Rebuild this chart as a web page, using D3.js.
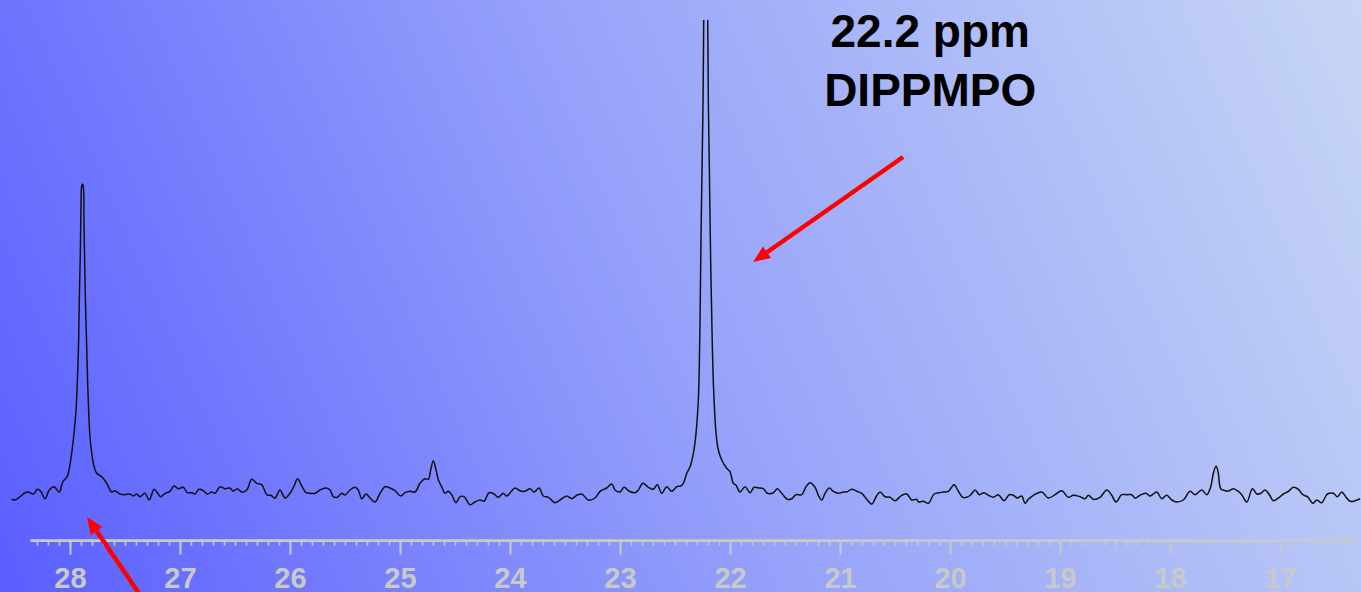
<!DOCTYPE html>
<html>
<head>
<meta charset="utf-8">
<script src="https://cdn.jsdelivr.net/npm/d3@7"></script>
<style>
  html, body { margin: 0; padding: 0; overflow: hidden; }
  svg { display: block; }
</style>
</head>
<body>
<svg width="1361" height="592"></svg>
<script>
// 31P NMR spectrum, chemical shift (ppm) vs. intensity (arbitrary units)
const shift = [
  28.530, 28.500, 28.454, 28.409, 28.379, 28.333, 28.297, 28.266, 28.227, 28.188,
  28.145, 28.097, 28.066, 28.030, 28.015, 27.993, 27.970, 27.945, 27.930, 27.921,
  27.915, 27.906, 27.900, 27.893, 27.886, 27.879, 27.872, 27.861, 27.848, 27.836,
  27.818, 27.802, 27.788, 27.757, 27.711, 27.666, 27.621, 27.591, 27.545, 27.500,
  27.454, 27.424, 27.393, 27.363, 27.318, 27.279, 27.236, 27.211, 27.175, 27.136,
  27.091, 27.054, 27.015, 26.970, 26.933, 26.893, 26.863, 26.827, 26.788, 26.751,
  26.711, 26.681, 26.636, 26.591, 26.545, 26.515, 26.479, 26.439, 26.393, 26.348,
  26.302, 26.257, 26.211, 26.175, 26.136, 26.091, 26.045, 26.000, 25.963, 25.930,
  25.893, 25.854, 25.818, 25.772, 25.727, 25.672, 25.636, 25.606, 25.570, 25.530,
  25.500, 25.454, 25.409, 25.379, 25.348, 25.309, 25.272, 25.227, 25.181, 25.136,
  25.091, 25.045, 24.993, 24.954, 24.909, 24.863, 24.818, 24.772, 24.742, 24.721,
  24.697, 24.672, 24.651, 24.621, 24.591, 24.561, 24.530, 24.491, 24.454, 24.418,
  24.363, 24.318, 24.272, 24.236, 24.191, 24.145, 24.106, 24.061, 24.030, 23.993,
  23.954, 23.909, 23.863, 23.818, 23.781, 23.736, 23.697, 23.651, 23.591, 23.545,
  23.484, 23.439, 23.393, 23.348, 23.288, 23.227, 23.181, 23.121, 23.075, 23.045,
  23.000, 22.963, 22.915, 22.863, 22.833, 22.793, 22.742, 22.697, 22.661, 22.621,
  22.575, 22.530, 22.484, 22.448, 22.424, 22.393, 22.363, 22.333, 22.309, 22.288,
  22.279, 22.272, 22.263, 22.254, 22.245, 22.221, 22.197, 22.188, 22.175, 22.163,
  22.151, 22.127, 22.106, 22.075, 22.030, 22.000, 21.970, 21.945, 21.909, 21.863,
  21.818, 21.781, 21.742, 21.697, 21.661, 21.606, 21.570, 21.530, 21.479, 21.439,
  21.400, 21.348, 21.309, 21.272, 21.227, 21.197, 21.166, 21.136, 21.097, 21.061,
  21.015, 20.970, 20.939, 20.893, 20.848, 20.802, 20.757, 20.711, 20.672, 20.636,
  20.591, 20.545, 20.500, 20.439, 20.393, 20.348, 20.302, 20.288, 20.242, 20.197,
  20.145, 20.097, 20.061, 20.015, 19.963, 19.924, 19.884, 19.848, 19.811, 19.772,
  19.733, 19.691, 19.651, 19.606, 19.561, 19.509, 19.461, 19.424, 19.388, 19.348,
  19.318, 19.288, 19.242, 19.166, 19.106, 19.045, 18.984, 18.924, 18.879, 18.818,
  18.772, 18.742, 18.697, 18.636, 18.575, 18.530, 18.491, 18.439, 18.393, 18.348,
  18.318, 18.272, 18.218, 18.181, 18.121, 18.075, 18.030, 17.984, 17.939, 17.879,
  17.818, 17.772, 17.711, 17.666, 17.630, 17.606, 17.581, 17.561, 17.539, 17.500,
  17.461, 17.424, 17.379, 17.348, 17.302, 17.251, 17.211, 17.175, 17.136, 17.097,
  17.061, 17.015, 16.970, 16.924, 16.879, 16.833, 16.793, 16.751, 16.702, 16.666,
  16.621, 16.570, 16.515, 16.479, 16.439, 16.400, 16.363, 16.318, 16.272
];
const intensity = [
  -6.3, -7, -3.7, 0.3, 1, -1, 3.7, 1.7, -5.7, 3,
  6.3, 1, 11, 15.7, 19.7, 33, 53, 83, 120, 153,
  193, 240, 283, 307, 309, 307, 266, 200, 146, 100,
  56, 40, 29.7, 19.7, 16.3, 9.7, 1, 2.3, -1, -1.7,
  -1, -3, -1, -3.7, -0.3, -7, 3.7, 1, -3.7, -0.3,
  1.7, 7, 4.3, 5.7, 0.3, 0.3, -1, 3.7, 2.3, -1,
  1, -0.3, 6.3, 4.3, 5, 1.7, 4.3, 1, 3, 13.7,
  9.7, 8.3, -1.7, -2.3, -5, 3, -5, -0.3, 7, 14.3,
  7, 0.3, -0.3, -0.3, 3, 5, 3, -3.7, -4.3, -0.3,
  -2, 3, 5.7, 3, -5.7, -1, -5, -9, -0.3, 6.3,
  5, 2.3, -3, 0.3, 1.7, 1, 9.7, 14.3, 13.7, 23,
  32.3, 23, 13, 6.3, -0.3, 1.7, -1.7, -9.7, -3.7, -3.7,
  -11.7, -9, -7, -8.3, 0.3, -1, -4.3, -0.3, -3, 1,
  5, 2.3, 1.7, 4.3, 1, 5, -3, -4.3, -9.7, -7,
  -3, -5.7, -2.3, -1, -7, -5, 1.7, 5, 9, 3,
  1, 5.7, 1.7, 0.3, 3, 9.7, 5.7, 3.7, 8.3, -0.3,
  6.3, 1.7, 6.3, 7, 9.7, 19.7, 26.3, 39.7, 59.7, 93,
  126.3, 176.3, 259.7, 326.3, 393, 693, 393, 326.3, 226.3, 159.7,
  109.7, 59.7, 43, 33, 24.7, 21.3, 9.7, 7.7, 1, 6.3,
  0.3, 5.7, 5, 4.3, -0.3, 0.3, 4.3, -0.3, -6.3, -5.7,
  -1.7, -1.7, 6.3, 10.3, 5.7, -2.3, -7, -0.3, 5, 1.7,
  -0.3, 1, 1, 3.7, 1.7, -0.3, -6.3, -11, -3.7, 1,
  -3.7, -4.3, -7.7, -2.3, -1, -7, -6.3, -9, -8.3, -10.3,
  -1, 0.3, 1, 1.7, 8.3, 1.7, -4.3, -4.3, -1.7, 3,
  -1.7, 0.3, -2.3, -4.3, -1.7, -7.7, -1.7, -2.3, -5, -3,
  -10.3, -6.3, -2.3, 1, -5, -1.7, 2.3, -4.3, -2.3, -3.7,
  -5.7, -2.3, -6.3, -4.3, 3, -2.3, -9, -1.7, -1.7, -1.7,
  -5, -2.3, -0.3, -3, 1, -5.7, -2.3, -7, -9, -7,
  1.7, -1.7, 3, -1.7, 6.3, 19.7, 27, 19.7, 4.3, 2.3,
  2.3, 4.3, 1.7, -1.7, -9, 4.3, -1, -0.3, 3, -1.7,
  -7.7, -5, -1, 1.7, 5.7, 3.7, -1.7, -3.7, -10.3, -7,
  -9.7, -1, -0.3, -3.7, 1, -4.3, -8.3, -7.7, -5.7
];

// axis: labelled whole ppm values, the ruler itself runs a little past both ends
const majorTicks = [28, 27, 26, 25, 24, 23, 22, 21, 20, 19, 18, 17];
const axisExtent = [28.36, 16.3];

// annotation: label text and arrows (in ppm / intensity units)
const labelLines = ["22.2 ppm", "DIPPMPO"];
const labelAt = [20.18, 446, 387];          // ppm, baseline of line 1, baseline of line 2
const arrows = [
  {from: [20.427, 336], to: [21.79, 231]},
  {from: [27.30, -112], to: [27.845, -24]}
];

const svg = d3.select("svg");
const width = +svg.attr("width");
const height = +svg.attr("height");

// background gradient, blue at bottom-left fading to pale blue at top-right
const defs = svg.append("defs");
const grad = defs.append("linearGradient")
    .attr("id", "bg")
    .attr("gradientUnits", "userSpaceOnUse")
    .attr("x1", 0).attr("y1", height)
    .attr("x2", width).attr("y2", 0);
grad.append("stop").attr("offset", "0%").attr("stop-color", "#5a5eff");
grad.append("stop").attr("offset", "50%").attr("stop-color", "#97a3fa");
grad.append("stop").attr("offset", "100%").attr("stop-color", "#c7d6f5");
svg.append("rect").attr("width", width).attr("height", height).attr("fill", "url(#bg)");

defs.append("clipPath").attr("id", "plotClip")
  .append("rect").attr("x", 0).attr("y", 20).attr("width", width).attr("height", height - 20);

const xScale = d3.scaleLinear().domain([28.636, 16.264]).range([0, width]);
const yScale = d3.scaleLinear().domain([0, 473]).range([493, 20]);

// spectrum trace
const points = shift.map((s, i) => [s, intensity[i]]);
const line = d3.line()
    .x(d => xScale(d[0]))
    .y(d => yScale(d[1]))
    .curve(d3.curveCatmullRom.alpha(0.5));
svg.append("path")
    .datum(points)
    .attr("clip-path", "url(#plotClip)")
    .attr("fill", "none")
    .attr("stroke", "#111")
    .attr("stroke-width", 1.5)
    .attr("stroke-linejoin", "round")
    .attr("d", line);

// ppm ruler
const axisY = 540.7;
const axisColor = "#c9c9c9";
const axisG = svg.append("g").attr("transform", `translate(0,${axisY})`);

axisG.append("line")
    .attr("x1", xScale(axisExtent[0])).attr("x2", xScale(axisExtent[1]))
    .attr("stroke", axisColor).attr("stroke-width", 2.8);

const minorTicks = d3.range(164, 284).map(d => d / 10);
const minorAxis = d3.axisBottom(xScale).tickValues(minorTicks).tickSize(5).tickFormat("");
axisG.append("g").call(minorAxis)
    .call(g => g.select(".domain").remove())
    .call(g => g.selectAll(".tick line").attr("stroke", axisColor).attr("stroke-width", 1.7));

const majorAxis = d3.axisBottom(xScale).tickValues(majorTicks).tickSize(14).tickFormat(d3.format("d"));
axisG.append("g").call(majorAxis)
    .call(g => g.select(".domain").remove())
    .call(g => g.selectAll(".tick line").attr("stroke", axisColor).attr("stroke-width", 2))
    .call(g => g.selectAll(".tick text")
        .attr("y", 47.8).attr("dy", 0)
        .attr("fill", axisColor)
        .attr("font-family", "Liberation Sans, Arial, sans-serif")
        .attr("font-weight", "bold")
        .attr("font-size", 29));

// annotation text
svg.append("g").selectAll("text")
  .data(labelLines)
  .join("text")
    .attr("x", xScale(labelAt[0]))
    .attr("y", (d, i) => yScale(labelAt[i + 1]))
    .attr("text-anchor", "middle")
    .attr("font-family", "Liberation Sans, Arial, sans-serif")
    .attr("font-weight", "bold")
    .attr("font-size", 46)
    .attr("fill", "#000")
    .text(d => d);

// red arrows
const headLen = 17, headHalf = 7;
arrows.forEach(a => {
  const x0 = xScale(a.from[0]), y0 = yScale(a.from[1]);
  const x1 = xScale(a.to[0]), y1 = yScale(a.to[1]);
  const ang = Math.atan2(y1 - y0, x1 - x0);
  const bx = x1 - headLen * Math.cos(ang), by = y1 - headLen * Math.sin(ang);
  svg.append("line")
      .attr("x1", x0).attr("y1", y0).attr("x2", bx).attr("y2", by)
      .attr("stroke", "#ff0000").attr("stroke-width", 4.5);
  const px = -Math.sin(ang), py = Math.cos(ang);
  svg.append("path")
      .attr("d", `M${x1},${y1}L${bx + px * headHalf},${by + py * headHalf}L${bx - px * headHalf},${by - py * headHalf}Z`)
      .attr("fill", "#ff0000");
});
</script>
</body>
</html>
